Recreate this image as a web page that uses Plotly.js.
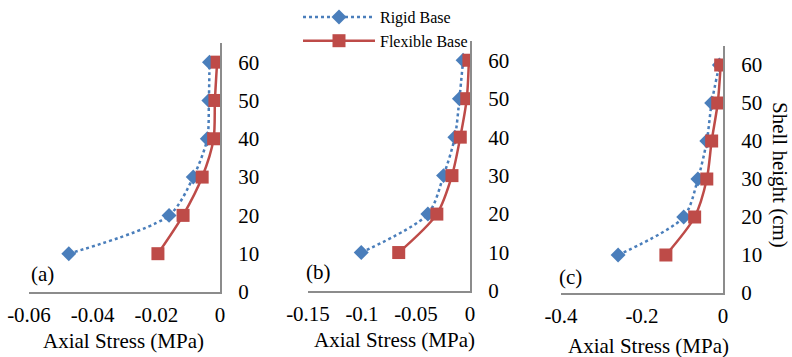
<!DOCTYPE html>
<html>
<head>
<meta charset="utf-8">
<script src="https://cdn.plot.ly/plotly-3.0.1.min.js"></script>
<style>html,body{margin:0;padding:0;background:#fff;}#chart{width:792px;height:357px;}</style>
</head>
<body>
<div id="chart"></div>
<script>
// Data
const heights = [10, 20, 30, 40, 50, 60];
const rigidA = [-0.0475, -0.016, -0.0084, -0.004, -0.0035, -0.0033];
const flexA  = [-0.0195, -0.0116, -0.0056, -0.002, -0.0016, -0.0009];
const rigidB = [-0.1007, -0.039, -0.0245, -0.014, -0.0098, -0.0064];
const flexB  = [-0.066, -0.0307, -0.0167, -0.009, -0.003, -0.001];
const rigidC = [-0.259, -0.097, -0.062, -0.04, -0.028, -0.009];
const flexC  = [-0.141, -0.07, -0.04, -0.028, -0.013, -0.0057];
const seriesNames = ['Rigid Base', 'Flexible Base'];
const panelLabels = ['(a)', '(b)', '(c)'];
const xTitle = 'Axial Stress (MPa)';
const yTitle = 'Shell height (cm)';
const yTicks = [0, 10, 20, 30, 40, 50, 60];
const xTicksA = [-0.06, -0.04, -0.02, 0];
const xTicksB = [-0.15, -0.1, -0.05, 0];
const xTicksC = [-0.4, -0.2, 0];

const W = 792, H = 357;
const FONT = 'Liberation Serif, Times New Roman, serif';
const BLUE = '#4a7ebb', RED = '#be4b48', AXC = '#8c8c8c';

function rigid(x, i, show) {
  return {x: x, y: heights, xaxis: 'x' + (i === 1 ? '' : i), yaxis: 'y' + (i === 1 ? '' : i),
    name: seriesNames[0], showlegend: show, mode: 'lines+markers', type: 'scatter',
    line: {color: BLUE, width: 2.5, dash: 'dot', shape: 'spline', smoothing: 0.8},
    marker: {symbol: 'diamond', size: 11.5, color: BLUE}};
}
function flex(x, i, show) {
  return {x: x, y: heights, xaxis: 'x' + (i === 1 ? '' : i), yaxis: 'y' + (i === 1 ? '' : i),
    name: seriesNames[1], showlegend: show, mode: 'lines+markers', type: 'scatter',
    line: {color: RED, width: 2.5, shape: 'spline', smoothing: 0.8},
    marker: {symbol: 'square', size: 13, color: RED}};
}
const data = [rigid(rigidA, 1, true), flex(flexA, 1, true),
              rigid(rigidB, 2, false), flex(flexB, 2, false),
              rigid(rigidC, 3, false), flex(flexC, 3, false)];

function px(x) { return x / W; }
function py(y) { return (H - y) / H; }

function xax(d0, d1, range, ticks, yname) {
  return {domain: [px(d0), px(d1)], range: range, anchor: yname, tickvals: ticks,
    ticktext: ticks.map(String), showgrid: false, zeroline: false, showline: true,
    linecolor: AXC, linewidth: 2, ticks: 'outside', ticklen: 3, tickcolor: 'rgba(0,0,0,0)',
    tickfont: {family: FONT, size: 21, color: '#000'}, fixedrange: true};
}
function yax(bot, top, xname) {
  return {domain: [py(bot), py(top)], range: [0, 65], anchor: xname, side: 'right',
    tickvals: yTicks, showgrid: false, zeroline: false, showline: true, linecolor: AXC,
    linewidth: 2, ticks: 'outside', ticklen: 12, tickcolor: 'rgba(0,0,0,0)',
    tickfont: {family: FONT, size: 21, color: '#000'}, fixedrange: true};
}

const ann = [];
const labelPos = [[42, 274], [318, 272], [570, 277]];
panelLabels.forEach((t, i) => ann.push({text: t, xref: 'paper', yref: 'paper',
  x: px(labelPos[i][0]), y: py(labelPos[i][1]), showarrow: false,
  font: {family: FONT, size: 21, color: '#000'}, xanchor: 'center', yanchor: 'middle'}));
const titlePos = [[123, 341], [394, 340], [648, 346]];
titlePos.forEach(p => ann.push({text: xTitle, xref: 'paper', yref: 'paper',
  x: px(p[0]), y: py(p[1]), showarrow: false, font: {family: FONT, size: 21, color: '#000'},
  xanchor: 'center', yanchor: 'middle'}));
ann.push({text: yTitle, xref: 'paper', yref: 'paper', x: px(780), y: py(175), textangle: 90,
  showarrow: false, font: {family: FONT, size: 21, color: '#000'}, xanchor: 'center', yanchor: 'middle'});

const layout = {
  width: W, height: H, margin: {l: 0, r: 0, t: 0, b: 0}, paper_bgcolor: '#fff', plot_bgcolor: '#fff',
  font: {family: FONT, color: '#000'},
  xaxis: xax(29, 220, [-0.06, 0], xTicksA, 'y'),
  yaxis: yax(292, 43, 'x'),
  xaxis2: xax(308, 470, [-0.15, 0], xTicksB, 'y2'),
  yaxis2: yax(291, 41, 'x2'),
  xaxis3: xax(561, 723, [-0.4, 0], xTicksC, 'y3'),
  yaxis3: yax(293, 46, 'x3'),
  showlegend: true,
  legend: {x: px(298), y: 1, xanchor: 'left', yanchor: 'top', bgcolor: 'rgba(0,0,0,0)',
    font: {family: FONT, size: 16, color: '#000'}, tracegroupgap: 0, itemwidth: 72},
  annotations: ann
};
Plotly.newPlot('chart', data, layout, {displayModeBar: false, staticPlot: true});
</script>
</body>
</html>
